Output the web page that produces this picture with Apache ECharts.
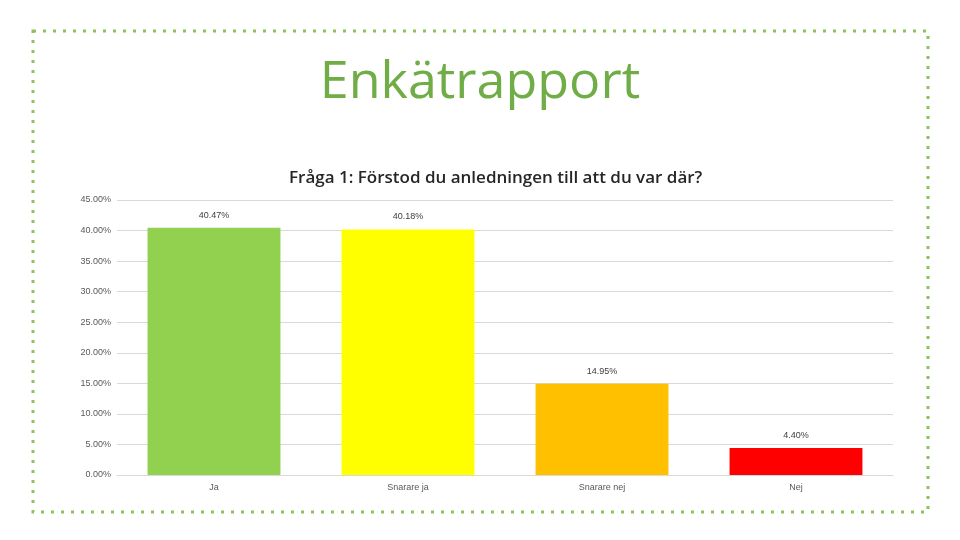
<!DOCTYPE html>
<html><head><meta charset="utf-8">
<script src="https://cdn.jsdelivr.net/npm/echarts@6/dist/echarts.min.js"></script>
<style>html,body{margin:0;padding:0;background:#fff}#c{width:960px;height:540px}</style>
</head><body><div id="c"></div>
<script>
const categories = ['Ja', 'Snarare ja', 'Snarare nej', 'Nej'];
const values = [40.47, 40.18, 14.95, 4.40];
const barColors = ['#92D050', '#FFFF00', '#FFC000', '#FF0000'];
const yTicks = [0, 5, 10, 15, 20, 25, 30, 35, 40, 45];

const chart = echarts.init(document.getElementById('c'));
chart.setOption({
  animation: false,
  backgroundColor: '#ffffff',
  graphic: [
    { type: 'rect', shape: { x: 33, y: 31, width: 895, height: 481 },
      style: { fill: 'none', stroke: '#8DC25E', lineWidth: 3, lineDash: [3, 7] } },
    { type: 'text', left: 'center', top: 57,
      style: { text: 'Enkätrapport', font: '52px "Open Sans", sans-serif', fill: '#70AD47' } }
  ],
  title: {
    text: 'Fråga 1: Förstod du anledningen till att du var där?',
    left: 284, top: 165,
    textStyle: { fontFamily: '"Open Sans", sans-serif', fontSize: 17, fontWeight: 600, color: '#262626' }
  },
  grid: { left: 117, right: 67, top: 200, bottom: 65 },
  xAxis: {
    type: 'category', data: categories,
    axisLine: { show: true, lineStyle: { color: '#D9D9D9' } },
    axisTick: { show: false },
    axisLabel: { color: '#595959', fontSize: 9, fontFamily: '"Liberation Sans", sans-serif', margin: 8 }
  },
  yAxis: {
    type: 'value', min: 0, max: 45, interval: 5,
    axisLine: { show: false }, axisTick: { show: false },
    splitLine: { lineStyle: { color: '#D9D9D9' } },
    axisLabel: { color: '#595959', fontSize: 9, fontFamily: '"Liberation Sans", sans-serif', margin: 6,
      formatter: v => v.toFixed(2) + '%' }
  },
  series: [{
    type: 'bar', barWidth: '68.5%',
    data: values.map((v, i) => ({ value: v, itemStyle: { color: barColors[i] } })),
    label: { show: true, position: 'top', distance: 8, color: '#404040', fontSize: 9,
      fontFamily: '"Liberation Sans", sans-serif',
      formatter: p => p.value.toFixed(2) + '%' }
  }]
});
</script></body></html>
